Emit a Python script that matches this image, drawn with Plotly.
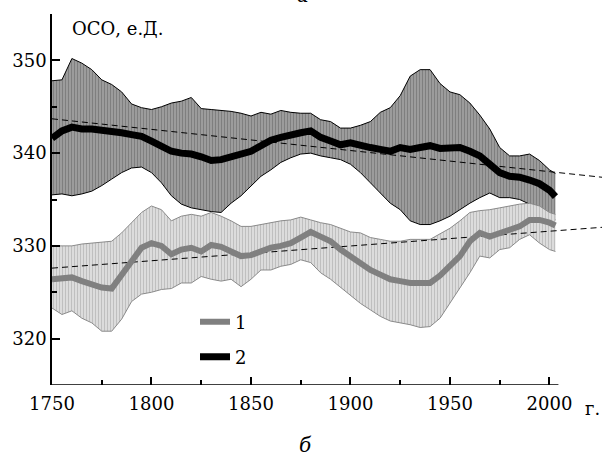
import plotly.graph_objects as go

years = [1750, 1755, 1760, 1765, 1770, 1775, 1780, 1785, 1790, 1795,
         1800, 1805, 1810, 1815, 1820, 1825, 1830, 1835, 1840, 1845,
         1850, 1855, 1860, 1865, 1870, 1875, 1880, 1885, 1890, 1895,
         1900, 1905, 1910, 1915, 1920, 1925, 1930, 1935, 1940, 1945,
         1950, 1955, 1960, 1965, 1970, 1975, 1980, 1985, 1990, 1995,
         2000, 2003]

# series 2 (black)
black_mid = [341.6, 342.4, 342.8, 342.6, 342.6, 342.5, 342.3, 342.2, 342.0, 341.8,
             341.3, 340.8, 340.2, 340.0, 339.9, 339.6, 339.2, 339.3, 339.6, 339.9,
             340.2, 340.8, 341.4, 341.7, 342.0, 342.2, 342.4, 341.7, 341.3, 340.9,
             341.1, 340.8, 340.6, 340.4, 340.2, 340.6, 340.4, 340.6, 340.8, 340.5,
             340.6, 340.6, 340.2, 339.7, 338.8, 337.9, 337.5, 337.4, 337.1, 336.7,
             336.0, 335.3]
black_hi = [347.8, 347.9, 350.2, 349.7, 349.0, 347.9, 347.4, 346.6, 345.3, 344.9,
            344.7, 345.0, 345.4, 345.6, 346.0, 344.8, 344.7, 344.6, 344.5, 344.3,
            344.0, 344.4, 344.2, 344.6, 344.4, 344.3, 344.3, 343.6, 343.4, 342.7,
            342.7, 343.0, 343.4, 344.4, 344.9, 346.2, 348.3, 349.0, 349.0, 347.5,
            346.6, 346.3, 345.4, 344.1, 342.6, 340.6, 339.7, 339.7, 339.9, 339.2,
            338.2, 337.8]
black_lo = [335.5, 335.6, 335.4, 335.6, 335.9, 336.5, 337.2, 337.9, 338.4, 338.5,
            337.9, 336.8, 335.4, 334.5, 334.1, 333.9, 333.7, 333.6, 334.6, 335.4,
            336.4, 337.5, 338.2, 339.0, 339.5, 339.9, 340.0, 339.7, 339.5, 339.3,
            338.8, 337.9, 336.8, 335.7, 334.6, 333.9, 332.7, 332.3, 332.3, 332.7,
            333.2, 333.9, 334.6, 335.2, 335.7, 335.2, 335.2, 335.0, 334.5, 333.9,
            333.4, 332.8]

# series 1 (gray)
gray_mid = [326.4, 326.5, 326.6, 326.2, 325.8, 325.5, 325.4, 326.9, 328.5, 329.8,
            330.3, 330.0, 329.1, 329.6, 329.8, 329.4, 330.1, 329.9, 329.4, 328.9,
            329.0, 329.4, 329.8, 330.0, 330.3, 330.9, 331.5, 331.0, 330.5, 329.6,
            328.9, 328.2, 327.4, 326.9, 326.4, 326.2, 326.0, 326.0, 326.0, 326.8,
            327.8, 328.9, 330.5, 331.4, 331.0, 331.4, 331.8, 332.1, 332.8, 332.8,
            332.5, 332.2]
gray_hi = [330.0, 330.0, 330.0, 330.2, 330.3, 330.4, 330.5, 331.4, 332.5, 333.6,
           334.3, 333.9, 332.7, 333.2, 333.4, 333.2, 333.6, 333.2, 332.7, 332.1,
           332.1, 332.3, 332.5, 332.7, 332.8, 333.1, 332.8, 332.5, 332.3, 331.9,
           331.5, 331.4, 330.9, 330.7, 330.5, 330.5, 330.7, 330.7, 330.7, 331.3,
           331.9, 332.7, 333.6, 333.8, 333.9, 334.1, 334.3, 334.5, 334.6, 334.3,
           333.6, 333.4]
gray_lo = [323.3, 322.6, 323.0, 322.2, 321.7, 320.8, 320.8, 322.1, 324.0, 324.8,
           325.0, 325.3, 325.4, 326.0, 326.0, 326.7, 326.4, 326.2, 326.4, 325.6,
           326.4, 327.4, 327.4, 327.8, 328.0, 328.5, 328.2, 327.1, 326.4, 325.5,
           324.6, 323.8, 323.1, 322.4, 321.9, 321.7, 321.5, 321.2, 321.3, 322.2,
           323.8, 325.5, 327.1, 328.9, 328.7, 329.6, 329.8, 330.7, 331.2, 330.3,
           329.6, 329.4]

# linear trends
trend_years = [1750, 2026.4]
black_trend = [343.7, 337.4]
gray_trend = [327.6, 332.0]

x_ticks = [1750, 1800, 1850, 1900, 1950, 2000]
x_tick_text = ["1750", "1800", "1850", "1900", "1950", "2000"]
x_minor = [1775, 1825, 1875, 1925, 1975]
y_ticks = [320, 330, 340, 350]
y_minor = [325, 335, 345, 355]

FONT = "DejaVu Serif"
FS = 18

fig = go.Figure()

# black band
fig.add_trace(go.Scatter(x=years, y=black_lo, mode="lines",
                         line=dict(color="black", width=1), showlegend=False,
                         hoverinfo="skip"))
fig.add_trace(go.Scatter(x=years, y=black_hi, mode="lines", fill="tonexty",
                         line=dict(color="black", width=1),
                         fillcolor="white",
                         fillpattern=dict(shape="|", fgcolor="#000000", bgcolor="white",
                                          size=3, solidity=0.85),
                         showlegend=False, hoverinfo="skip"))
# gray band
fig.add_trace(go.Scatter(x=years, y=gray_lo, mode="lines",
                         line=dict(color="#8a8a8a", width=1), showlegend=False,
                         hoverinfo="skip"))
fig.add_trace(go.Scatter(x=years, y=gray_hi, mode="lines", fill="tonexty",
                         line=dict(color="#8a8a8a", width=1),
                         fillcolor="white",
                         fillpattern=dict(shape="|", fgcolor="#808080", bgcolor="white",
                                          size=3, solidity=0.7),
                         showlegend=False, hoverinfo="skip"))
# trends
fig.add_trace(go.Scatter(x=trend_years, y=black_trend, mode="lines",
                         line=dict(color="black", width=1, dash="6px,4px"),
                         showlegend=False))
fig.add_trace(go.Scatter(x=trend_years, y=gray_trend, mode="lines",
                         line=dict(color="black", width=1, dash="6px,4px"),
                         showlegend=False))
# main lines
fig.add_trace(go.Scatter(x=years, y=gray_mid, mode="lines", name="1",
                         line=dict(color="#808080", width=6), legend="legend"))
fig.add_trace(go.Scatter(x=years, y=black_mid, mode="lines", name="2",
                         line=dict(color="black", width=7), legend="legend2"))

fig.update_layout(
    width=602, height=456,
    margin=dict(l=52, r=0, t=14, b=71),
    paper_bgcolor="white", plot_bgcolor="white",
    font=dict(family=FONT, size=FS, color="black"),
    xaxis=dict(range=[1750, 2026.4], showline=False, showgrid=False, zeroline=False,
               tickvals=x_ticks, ticktext=x_tick_text, ticks="inside", ticklen=8,
               tickwidth=1.5, tickcolor="black", ticklabelstandoff=6,
               minor=dict(tickvals=x_minor, ticks="inside", ticklen=5,
                          tickwidth=1.5, tickcolor="black"),
               tickfont=dict(family=FONT, size=FS)),
    yaxis=dict(range=[315, 355], showline=True, linecolor="black", linewidth=1.5,
               showgrid=False, zeroline=False,
               tickvals=y_ticks, ticks="inside", ticklen=8, tickwidth=1.5,
               tickcolor="black",
               minor=dict(tickvals=y_minor, ticks="inside", ticklen=5,
                          tickwidth=1.5, tickcolor="black"),
               tickfont=dict(family=FONT, size=FS)),
    legend=dict(x=0.26, y=0.170, xanchor="left", yanchor="middle",
                bgcolor="rgba(0,0,0,0)", font=dict(family=FONT, size=FS)),
    legend2=dict(x=0.26, y=0.0755, xanchor="left", yanchor="middle",
                 bgcolor="rgba(0,0,0,0)", font=dict(family=FONT, size=FS)),
    shapes=[dict(type="line", xref="x", yref="y", x0=1750, x1=2004.5, y0=315, y1=315,
                 line=dict(color="black", width=1.5))],
    annotations=[
        dict(text="ОСО, е.Д.", xref="paper", yref="paper", x=0.033, y=0.962,
             xanchor="left", yanchor="middle", showarrow=False,
             font=dict(family=FONT, size=FS)),
        dict(text="г.", xref="x", yref="paper", x=2000, y=0, xanchor="center",
             yanchor="middle", xshift=43, yshift=-23, showarrow=False,
             font=dict(family=FONT, size=FS)),
        dict(text="<i>а</i>", xref="paper", yref="paper", x=0.456, y=1,
             xanchor="center", yanchor="bottom", yshift=5, showarrow=False,
             font=dict(family=FONT, size=20)),
        dict(text="<i>б</i>", xref="x", yref="paper", x=1877.5, y=0,
             xanchor="center", yanchor="middle", yshift=-60, showarrow=False,
             font=dict(family=FONT, size=20)),
    ],
)

fig.write_html("out.html")
